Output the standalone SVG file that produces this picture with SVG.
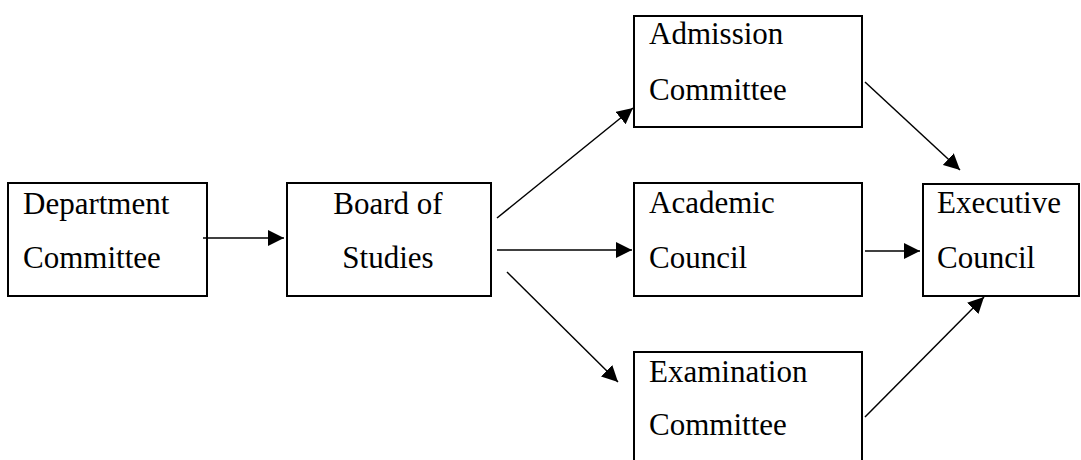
<svg xmlns="http://www.w3.org/2000/svg" width="1081" height="460" viewBox="0 0 1081 460">
<style>
.box{fill:#fff;stroke:#000;stroke-width:2}
.conn{stroke:#000;stroke-width:1.5;fill:none;marker-end:url(#ah)}
</style>
<defs>
<marker id="ah" markerUnits="userSpaceOnUse" markerWidth="17" markerHeight="16" refX="16" refY="8" orient="auto">
<path d="M0,0 L16,8 L0,16 z" fill="#000"/>
</marker>
</defs>
<rect width="1081" height="460" fill="#fff"/>
<g font-family="Liberation Serif, DejaVu Serif, serif" font-size="31" fill="#000">
<g id="department">
<rect class="box" x="8" y="183" width="199" height="113"/>
<text x="23" y="214">Department</text>
<text x="23" y="268">Committee</text>
</g>
<g id="board">
<rect class="box" x="287" y="183" width="204" height="113"/>
<text x="388" y="214" text-anchor="middle">Board of</text>
<text x="388" y="268" text-anchor="middle">Studies</text>
</g>
<g id="admission">
<rect class="box" x="634" y="16" width="228" height="111"/>
<text x="649" y="44">Admission</text>
<text x="649" y="100">Committee</text>
</g>
<g id="academic">
<rect class="box" x="634" y="183" width="228" height="113"/>
<text x="649" y="213">Academic</text>
<text x="649" y="268">Council</text>
</g>
<g id="examination">
<rect class="box" x="634" y="352" width="228" height="130"/>
<text x="649" y="382">Examination</text>
<text x="649" y="435">Committee</text>
</g>
<g id="executive">
<rect class="box" x="923" y="184" width="156" height="112"/>
<text x="937" y="213">Executive</text>
<text x="937" y="268">Council</text>
</g>
</g>
<g id="connectors">
<line class="conn" x1="203" y1="238" x2="284" y2="238"/>
<line class="conn" x1="497" y1="218" x2="633" y2="108"/>
<line class="conn" x1="497" y1="250" x2="632" y2="250"/>
<line class="conn" x1="507" y1="272" x2="618" y2="382"/>
<line class="conn" x1="865" y1="82" x2="960" y2="170"/>
<line class="conn" x1="865" y1="251" x2="920" y2="251"/>
<line class="conn" x1="865" y1="417" x2="984" y2="297"/>
</g>
</svg>
